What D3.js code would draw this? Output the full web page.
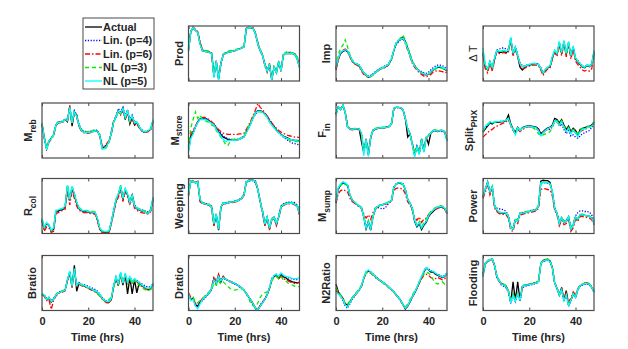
<!DOCTYPE html>
<html>
<head>
<meta charset="utf-8">
<script src="https://cdn.jsdelivr.net/npm/d3@7"></script>
<style>
body { margin: 0; background: #fff; }
text { font-family: "Liberation Sans", Arial, sans-serif; }
</style>
</head>
<body>
<svg width="628" height="349"></svg>
<script>
// time axis (hours), one sample per hour
var hours = [0,1,2,3,4,5,6,7,8,9,10,11,12,13,14,15,16,17,18,19,20,21,22,23,24,
    25,26,27,28,29,30,31,32,33,34,35,36,37,38,39,40,41,42,43,44,45,46,47,48];
var xTicks = [0, 20, 40];

var seriesNames = ["Actual", "Lin. (p=4)", "Lin. (p=6)", "NL (p=3)", "NL (p=5)"];

// each panel: [Actual, Lin p=4, Lin p=6, NL p=3, NL p=5], values in % of the panel's y range
var prod = [
    [56,90,97,92,88,68,55,54,53,52,50,8,36,3,32,48,50,52,53,54,55,57,58,60,62,95,97,97,96,85,68,56,47,30,18,30,2,25,15,35,18,47,50,50,50,50,48,40,25],
    [55,89,95,92,89,70,56,55,54,53,51,10,34,6,30,47,51,53,54,55,56,58,59,61,63,94,96,96,95,84,66,55,46,32,20,28,4,24,18,33,20,46,52,52,51,51,49,42,28],
    [58,92,98,94,90,72,57,55,54,53,50,9,37,5,33,48,50,52,53,54,55,56,58,60,62,96,98,98,97,87,70,57,48,28,16,32,3,27,14,36,17,48,51,52,52,51,50,43,27],
    [60,91,97,93,90,66,57,56,55,54,52,10,36,6,33,49,52,54,55,56,57,58,60,61,63,95,96,96,95,86,67,57,49,31,19,31,4,26,17,34,19,48,52,53,52,51,50,44,30],
    [54,90,97,92,88,67,55,54,53,52,50,6,36,2,32,48,50,52,53,54,55,57,58,60,62,95,97,97,96,85,67,56,47,30,18,30,2,25,15,35,18,47,50,50,50,50,48,40,25]
];
var imp = [
    [22,40,50,54,56,54,45,36,32,30,28,20,14,10,7,9,12,16,19,22,24,25,27,32,40,55,68,73,77,80,72,60,48,35,28,22,18,15,12,11,12,16,20,23,25,25,24,21,19],
    [24,42,52,55,56,53,46,38,33,31,29,22,16,12,9,10,13,17,20,23,25,27,29,33,41,54,66,71,75,77,70,59,47,35,28,23,19,17,15,14,16,20,24,27,29,29,28,25,22],
    [20,38,52,56,58,55,44,35,31,29,26,18,12,9,6,8,11,15,18,21,23,24,26,31,40,56,69,74,76,77,68,56,44,32,25,20,15,12,9,8,9,12,16,18,19,18,17,15,16],
    [25,48,60,65,75,62,48,38,34,31,29,22,15,11,6,8,11,15,18,21,23,25,27,31,39,56,68,74,79,83,74,62,50,37,29,23,19,16,13,12,13,16,19,22,23,24,23,21,19],
    [24,42,52,55,57,55,46,37,33,31,29,21,15,11,8,9,12,16,19,22,24,26,28,33,42,56,69,74,76,78,70,58,46,34,27,22,18,15,13,12,13,17,21,24,26,26,25,22,20]
];
var deltaT = [
    [50,25,20,35,22,40,55,52,52,54,52,55,78,48,60,45,25,20,25,28,29,30,31,31,30,22,14,20,24,26,42,55,48,70,50,72,48,70,45,62,40,35,30,25,24,28,26,30,53],
    [52,28,22,34,25,42,56,58,60,60,58,58,72,52,62,48,34,28,27,29,30,31,32,32,31,24,16,21,25,28,44,54,50,66,52,68,50,66,48,60,42,37,32,27,26,29,28,31,50],
    [48,22,15,32,18,38,54,50,50,52,50,53,74,46,58,43,28,22,23,26,27,28,29,29,28,20,10,17,22,24,40,52,45,66,46,68,44,66,40,58,36,30,25,20,18,20,18,22,48],
    [50,26,21,36,24,41,56,53,53,55,53,56,76,50,60,46,32,26,26,29,30,31,32,31,30,23,15,21,25,27,43,55,49,68,51,70,48,68,46,60,41,36,31,27,26,29,28,31,52],
    [60,30,22,36,25,42,56,54,55,56,54,56,80,50,62,46,31,26,26,29,30,31,32,31,30,23,15,21,25,28,45,56,50,72,52,74,50,72,47,64,42,36,31,26,25,29,27,31,56]
];
var mReb = [
    [62,36,17,30,36,42,60,65,65,66,70,66,94,58,84,78,58,50,47,46,46,47,48,49,49,40,18,20,24,30,45,66,74,86,80,90,70,85,62,74,60,64,56,50,47,47,49,52,68],
    [60,37,18,31,36,43,60,66,66,67,71,70,90,66,86,78,62,52,49,48,48,49,50,51,50,42,20,18,23,30,47,66,76,90,84,92,76,88,70,78,66,66,58,52,49,48,50,53,66],
    [62,34,16,29,34,40,58,64,64,65,69,68,96,62,82,74,58,49,46,45,45,46,48,49,48,42,22,21,26,32,48,68,76,84,78,86,72,82,64,72,60,62,55,50,47,47,48,52,66],
    [64,38,20,32,37,43,60,66,66,66,70,68,92,64,83,76,60,52,50,48,48,49,50,50,50,40,18,15,20,28,44,64,74,86,80,88,74,84,66,74,64,64,56,51,48,48,50,53,66],
    [62,36,15,31,35,42,60,65,65,66,70,68,92,64,84,76,60,50,47,46,46,47,48,49,49,40,16,17,22,30,46,66,75,86,82,90,74,86,68,76,64,66,58,51,48,48,50,53,70]
];
var mStore = [
    [14,40,45,57,66,71,71,71,70,67,64,61,54,48,43,38,36,34,33,33,33,33,34,36,38,47,55,64,74,83,86,86,84,80,76,68,62,57,51,47,43,40,38,36,34,33,32,32,31],
    [20,38,46,55,64,70,72,72,71,68,65,62,56,50,45,40,37,35,34,34,34,34,35,37,40,48,56,65,73,80,84,85,84,80,76,70,64,58,52,47,42,38,35,32,29,27,26,25,24],
    [22,44,50,58,66,72,74,74,72,70,66,62,56,52,48,45,44,43,43,43,43,43,44,44,45,52,60,68,78,88,99,92,88,82,76,70,64,58,54,50,47,45,43,41,40,39,38,38,37],
    [18,55,70,84,72,78,70,68,66,64,60,58,50,44,38,32,25,22,30,34,34,34,35,37,40,50,58,66,76,82,84,84,83,79,74,66,60,55,50,46,42,39,36,34,32,31,30,30,30],
    [10,35,44,56,65,70,70,70,69,66,63,60,52,46,40,34,30,32,32,32,32,33,34,36,38,46,54,63,73,82,85,85,83,79,74,66,60,55,50,46,42,39,37,35,34,33,32,31,30]
];
var fIn = [
    [80,93,88,96,82,56,53,52,53,53,53,30,10,35,5,38,50,53,54,55,55,55,56,57,62,90,92,92,91,88,72,38,44,25,5,20,8,35,12,38,25,45,50,50,49,50,50,48,32],
    [80,92,90,95,84,58,54,53,53,53,52,46,12,32,8,36,51,53,54,55,55,56,57,58,63,89,91,91,90,86,70,54,45,27,8,22,10,33,14,36,42,46,49,49,48,49,48,46,34],
    [79,94,89,96,83,57,52,51,52,52,51,44,11,34,7,37,49,52,53,54,54,55,56,57,62,90,92,92,91,87,71,52,43,26,7,21,9,34,13,37,41,44,49,49,48,49,49,47,33],
    [82,94,89,96,84,58,54,53,54,54,54,46,12,34,8,38,52,54,55,56,56,56,57,58,63,90,92,92,91,87,72,54,45,27,8,22,10,35,14,38,42,46,51,51,50,51,50,48,34],
    [78,93,88,96,82,56,53,52,53,53,53,46,4,34,3,38,50,53,54,55,55,55,56,57,62,90,92,92,91,88,72,53,44,24,2,20,6,34,10,38,41,45,50,50,49,50,50,48,30]
];
var splitPhx = [
    [47,53,58,64,62,65,65,65,66,66,68,78,62,53,47,56,50,55,57,58,59,58,57,56,53,44,48,52,55,56,60,72,70,64,70,60,52,58,48,54,50,42,52,54,55,57,58,60,65],
    [48,54,60,65,63,66,66,66,67,67,69,72,60,52,46,55,49,54,56,57,58,57,56,55,52,44,47,50,52,52,56,68,66,58,62,52,44,50,40,42,38,36,40,44,46,48,50,55,60],
    [38,42,46,50,52,56,58,60,62,64,66,70,58,50,44,52,48,52,54,56,57,56,55,54,50,42,46,50,53,54,58,68,66,60,66,56,48,54,46,50,46,40,48,50,52,54,56,58,62],
    [48,55,60,64,63,65,65,66,66,66,68,72,60,52,46,55,50,54,56,57,58,56,54,50,44,40,42,44,46,48,56,66,68,62,68,58,52,56,48,52,50,44,52,54,55,57,58,60,66],
    [50,58,62,66,64,66,66,66,67,67,69,72,60,52,42,55,50,54,56,57,58,57,56,55,50,40,46,50,54,55,58,68,66,60,66,56,48,54,44,50,46,38,48,52,53,55,56,58,62]
];
var rCol = [
    [25,10,19,15,4,8,40,41,43,44,48,86,60,84,70,55,45,42,40,40,39,38,38,37,25,8,3,2,2,3,20,40,60,70,85,62,80,70,55,70,50,45,43,41,40,38,37,42,64],
    [24,8,18,14,3,6,38,40,42,44,47,84,62,82,72,56,46,43,41,41,40,39,39,38,26,9,4,3,3,4,22,42,62,72,84,64,80,72,57,70,52,47,45,43,42,40,39,44,62],
    [22,4,12,10,2,4,36,38,40,42,44,78,52,78,64,50,42,40,38,38,37,36,36,35,22,6,2,1,1,2,18,38,56,66,80,58,76,66,52,66,46,42,40,38,37,36,35,40,60],
    [26,10,18,16,5,8,41,42,44,45,50,88,62,86,72,57,47,44,42,42,41,40,40,39,26,9,4,3,3,4,21,42,62,72,88,64,82,72,57,72,52,47,45,43,42,40,38,43,65],
    [28,12,20,16,6,10,42,43,45,46,50,88,62,86,72,57,46,43,41,41,40,39,39,38,27,10,5,4,4,5,22,42,62,72,86,64,82,72,56,70,50,46,44,42,40,38,37,42,66]
];
var weeping = [
    [70,96,95,92,94,60,55,54,53,52,48,15,35,6,48,55,55,56,57,57,58,59,61,64,70,94,96,97,97,94,80,58,40,15,30,8,25,30,16,30,48,52,54,55,55,55,53,50,35],
    [72,95,94,93,93,62,56,55,54,53,50,20,34,10,46,56,56,57,58,58,59,60,62,65,72,93,95,96,96,92,78,60,42,18,30,12,26,30,20,32,50,54,56,57,57,57,56,52,38],
    [68,97,96,93,95,58,54,53,52,51,47,14,34,8,46,54,54,55,56,56,57,58,60,63,69,95,97,98,98,95,81,57,38,14,28,6,24,28,14,28,46,51,53,54,54,54,52,49,34],
    [71,96,95,93,94,61,56,55,54,53,49,18,36,10,48,56,56,57,58,58,59,60,62,64,71,94,96,97,97,93,79,59,42,17,31,10,27,31,18,31,50,53,55,56,56,56,54,51,37],
    [70,96,95,92,94,62,55,54,53,52,48,18,35,8,48,55,55,56,57,57,58,59,61,64,70,94,96,97,97,94,80,58,40,17,30,10,25,30,18,30,48,52,54,55,55,55,53,50,36]
];
var mSump = [
    [58,82,88,93,90,88,70,61,57,53,50,47,30,8,20,6,30,45,49,51,52,54,55,57,60,84,90,92,91,90,80,62,55,45,22,12,18,7,15,20,30,36,40,44,47,48,48,45,37],
    [56,80,88,92,90,87,69,60,56,52,49,46,32,12,22,10,32,44,47,46,45,46,50,56,60,83,90,92,92,90,79,61,54,44,24,14,20,10,18,22,32,38,42,45,48,49,49,46,38],
    [55,72,78,80,78,76,64,58,55,52,49,46,36,28,34,26,38,46,49,51,52,53,54,56,58,78,82,83,82,80,72,58,52,42,30,24,30,20,26,28,34,38,42,44,46,47,47,44,36],
    [60,82,87,92,90,87,70,62,58,54,51,48,32,12,24,10,32,46,50,52,53,55,56,58,61,84,89,91,90,89,80,63,56,46,26,16,22,12,20,26,34,40,44,47,50,51,50,47,38],
    [58,84,90,94,92,89,70,61,57,53,50,47,30,10,20,8,30,45,49,51,52,54,55,57,60,84,90,92,92,90,80,62,55,45,24,14,20,10,17,22,32,38,42,46,48,49,49,46,37]
];
var power = [
    [67,80,94,75,85,50,42,38,37,37,36,30,10,8,25,22,36,37,38,39,40,41,42,43,50,95,97,96,96,93,75,45,37,18,28,20,22,30,8,15,30,25,34,34,33,32,31,28,19],
    [66,80,92,76,84,52,46,45,44,43,40,32,12,10,26,24,37,38,39,40,41,42,43,44,50,91,93,92,91,89,74,46,38,20,29,22,24,30,10,17,32,38,41,41,40,40,39,34,22],
    [64,75,88,70,80,46,40,36,35,35,34,28,6,4,22,18,33,35,36,37,38,39,40,41,46,80,82,81,80,79,68,42,34,14,24,16,18,26,4,10,26,22,31,31,30,29,28,25,16],
    [68,82,93,77,86,52,44,39,38,38,37,31,12,10,27,24,37,38,39,40,41,42,43,44,52,92,94,93,92,90,76,47,38,20,30,22,24,31,10,17,31,27,35,35,34,33,32,29,20],
    [67,81,93,76,85,51,43,39,38,38,37,31,10,8,25,22,36,37,38,39,40,41,42,43,50,92,93,92,92,90,76,46,37,18,28,20,22,30,8,15,30,26,34,34,33,32,31,28,19]
];
var bRatio = [
    [30,27,20,22,15,20,28,32,34,35,37,55,70,42,82,35,50,46,45,43,41,39,37,35,32,28,22,18,15,15,20,45,60,45,68,46,66,30,60,30,56,32,50,46,43,40,38,40,49],
    [30,28,22,24,18,22,29,33,35,36,38,54,66,46,72,48,51,48,47,46,44,42,40,38,35,30,24,20,17,17,22,44,58,50,66,52,64,54,60,54,57,55,52,49,46,44,42,44,48],
    [28,26,18,20,2,18,26,31,33,34,36,54,68,42,74,44,48,45,44,42,40,38,36,34,31,27,21,17,14,14,20,44,58,46,66,48,64,50,60,50,56,52,48,44,42,39,37,39,47],
    [30,28,21,23,17,21,29,33,35,36,38,55,68,45,74,46,50,46,45,43,41,39,37,34,30,26,21,18,17,20,24,42,58,48,66,50,64,50,58,48,54,50,46,42,39,37,36,38,45],
    [32,28,20,24,16,20,28,32,34,35,37,56,72,44,76,46,50,47,46,44,42,40,38,36,33,29,23,19,16,16,22,46,62,48,70,50,68,52,62,52,58,54,51,47,44,41,40,42,50]
];
var dRatio = [
    [30,20,22,10,8,15,20,24,28,32,40,58,48,64,52,62,57,55,53,51,49,47,44,41,37,31,25,19,11,3,1,8,14,20,28,40,55,62,64,58,66,61,60,56,54,52,51,50,51],
    [28,22,20,12,6,14,18,22,27,31,38,56,50,62,54,60,56,54,52,50,48,46,43,40,36,30,24,18,10,3,2,10,16,22,30,42,58,64,66,62,68,64,62,60,58,57,56,56,57],
    [32,24,24,12,10,16,22,25,29,33,42,62,52,66,54,62,57,55,53,51,49,47,44,41,37,31,25,19,12,5,3,9,15,21,29,40,56,62,62,58,62,58,56,54,52,50,49,50,52],
    [26,20,24,16,14,18,22,26,30,34,38,50,46,54,48,52,48,44,40,38,37,38,40,40,36,30,22,12,8,6,14,24,30,32,34,40,54,60,62,58,62,56,54,50,48,46,44,43,44],
    [30,18,20,8,3,12,20,24,28,32,40,56,50,62,54,60,57,55,53,51,49,47,44,41,37,31,25,19,11,3,1,8,14,20,28,42,56,64,66,62,68,64,62,61,60,58,58,58,60]
];
var n2Ratio = [
    [48,34,28,22,12,10,16,22,27,32,37,44,58,70,72,70,66,62,58,55,52,49,46,42,38,34,29,24,18,10,3,8,16,24,32,40,50,60,70,77,74,70,70,66,64,62,60,62,67],
    [36,30,25,18,8,4,12,20,26,31,37,44,58,69,72,70,66,62,58,55,52,49,46,42,38,34,29,24,18,10,3,8,16,24,32,40,52,62,72,78,76,72,71,68,66,64,62,64,68],
    [40,32,27,21,11,9,15,22,27,32,37,44,58,68,70,68,64,60,57,54,51,48,45,41,37,33,28,23,17,10,4,9,17,25,33,41,50,58,64,66,64,60,58,58,60,58,56,58,62],
    [42,33,28,22,13,11,18,24,29,34,39,46,58,68,70,68,64,61,57,54,51,48,45,41,37,33,28,23,18,11,6,12,20,28,35,42,52,60,66,70,68,64,56,50,48,50,52,48,50],
    [32,30,26,20,10,6,14,22,27,32,37,44,60,70,74,70,66,62,58,55,52,49,46,42,38,34,29,24,18,10,4,9,17,25,33,42,52,62,72,78,74,72,71,68,65,63,61,63,68]
];
var flooding = [
    [66,86,90,92,94,82,62,54,49,47,44,35,15,52,18,52,18,43,46,46,47,48,50,51,53,85,91,92,93,90,78,50,40,28,42,18,36,10,18,30,24,38,45,47,49,49,48,42,34],
    [62,84,89,91,93,80,60,52,46,44,41,33,13,27,16,30,17,41,44,45,46,47,48,49,51,83,89,90,91,88,76,48,39,27,37,17,27,8,17,29,23,37,44,46,48,48,47,41,33],
    [65,85,90,92,93,81,61,53,48,46,43,36,16,30,20,33,20,44,47,47,48,49,50,51,53,85,90,91,92,89,77,51,41,30,40,22,32,16,22,34,28,40,46,48,50,50,49,43,34],
    [66,87,91,93,95,83,63,55,50,48,45,36,16,30,19,32,19,44,47,47,48,49,50,51,54,86,92,93,94,91,79,51,41,29,39,19,29,11,19,31,25,39,46,48,50,50,49,43,35],
    [64,86,90,92,94,82,62,54,48,46,43,35,14,28,17,31,18,43,46,46,47,48,49,50,52,84,90,91,92,89,77,50,40,28,38,18,28,9,18,30,24,38,45,47,49,49,48,42,33]
];

// panels in grid order (slot 0 holds the legend)
var panels = [
    null,
    {label: "Prod", data: prod},
    {label: "Imp", data: imp},
    {label: "\u0394 T", data: deltaT, plain: true},
    {label: "M", sub: "reb", data: mReb},
    {label: "M", sub: "store", data: mStore},
    {label: "F", sub: "in", data: fIn},
    {label: "Split", sub: "PHX", data: splitPhx},
    {label: "R", sub: "col", data: rCol},
    {label: "Weeping", data: weeping},
    {label: "M", sub: "sump", data: mSump},
    {label: "Power", data: power},
    {label: "Bratio", data: bRatio},
    {label: "Dratio", data: dRatio},
    {label: "N2Ratio", data: n2Ratio},
    {label: "Flooding", data: flooding}
];

var svg = d3.select("svg");

var colors = ["#000000", "#0000ff", "#ff0000", "#00ee00", "#00ffff"];
var dashes = [null, "1.2,1.6", "5,2,1.5,2", "4,3", null];

var lefts = [42, 188.5, 336, 483];
var tops = [26, 103, 178.5, 255.5];
var pw = 111, ph = 55;
var axisColor = "#4a4a4a";
var textColor = "#262626";

var x = d3.scaleLinear().domain([0, 48]).range([0, pw]);
var y = d3.scaleLinear().domain([0, 100]).range([ph, 0]);

var line = d3.line()
    .x(function(d, i) { return x(hours[i]); })
    .y(function(d) { return y(d); });

panels.forEach(function(p, idx) {
    if (!p) return;
    var row = Math.floor(idx / 4), col = idx % 4;
    var g = svg.append("g")
        .attr("transform", "translate(" + lefts[col] + "," + tops[row] + ")");

    // series, Actual first so NL (p=5) ends on top
    p.data.forEach(function(s, k) {
        g.append("path")
            .attr("d", line(s))
            .attr("fill", "none")
            .attr("stroke", colors[k])
            .attr("stroke-width", 1.3)
            .attr("stroke-dasharray", dashes[k]);
    });

    var bottom = row === 3;
    var axB = g.append("g")
        .attr("transform", "translate(0," + ph + ")")
        .call(d3.axisBottom(x).tickValues(xTicks).tickSizeInner(-3).tickSizeOuter(0)
            .tickPadding(7).tickFormat(bottom ? d3.format("d") : ""));
    var axT = g.append("g")
        .call(d3.axisTop(x).tickValues(xTicks).tickSizeInner(-3).tickSizeOuter(0).tickFormat(""));
    [axB, axT].forEach(function(a) {
        a.select(".domain").remove();
        a.selectAll("line").attr("stroke", axisColor);
        a.selectAll("text")
            .attr("fill", textColor)
            .style("font-size", "11px")
            .style("font-weight", "bold")
            .style("font-family", "'Liberation Sans', Arial, sans-serif");
    });

    g.append("rect")
        .attr("width", pw)
        .attr("height", ph)
        .attr("fill", "none")
        .attr("stroke", axisColor)
        .attr("stroke-width", 1.2);

    // y label
    var lx = p.sub ? -10 : -6;
    var t = g.append("text")
        .attr("transform", "translate(" + lx + "," + (ph / 2) + ") rotate(-90)")
        .attr("text-anchor", "middle")
        .attr("fill", textColor)
        .style("font-size", "11px")
        .style("font-weight", p.plain ? "normal" : "bold");
    t.append("tspan").text(p.label);
    if (p.sub) {
        t.append("tspan")
            .attr("dy", 3.5)
            .style("font-size", "8.5px")
            .text(p.sub);
    }

    if (bottom) {
        g.append("text")
            .attr("x", pw / 2)
            .attr("y", ph + 30)
            .attr("text-anchor", "middle")
            .attr("fill", textColor)
            .style("font-size", "11px")
            .style("font-weight", "bold")
            .text("Time (hrs)");
    }
});

// legend in the empty top-left slot
var legend = svg.append("g").attr("transform", "translate(83,18)");
legend.append("rect")
    .attr("width", 71)
    .attr("height", 71)
    .attr("fill", "#fff")
    .attr("stroke", axisColor)
    .attr("stroke-width", 1);

seriesNames.forEach(function(name, k) {
    var ly = 9 + k * 13.5;
    legend.append("line")
        .attr("x1", 2).attr("x2", 19)
        .attr("y1", ly).attr("y2", ly)
        .attr("stroke", colors[k])
        .attr("stroke-width", 1.3)
        .attr("stroke-dasharray", dashes[k]);
    legend.append("text")
        .attr("x", 20)
        .attr("y", ly)
        .attr("dy", "0.35em")
        .attr("fill", textColor)
        .style("font-size", "11px")
        .style("font-weight", "bold")
        .text(name);
});
</script>
</body>
</html>
